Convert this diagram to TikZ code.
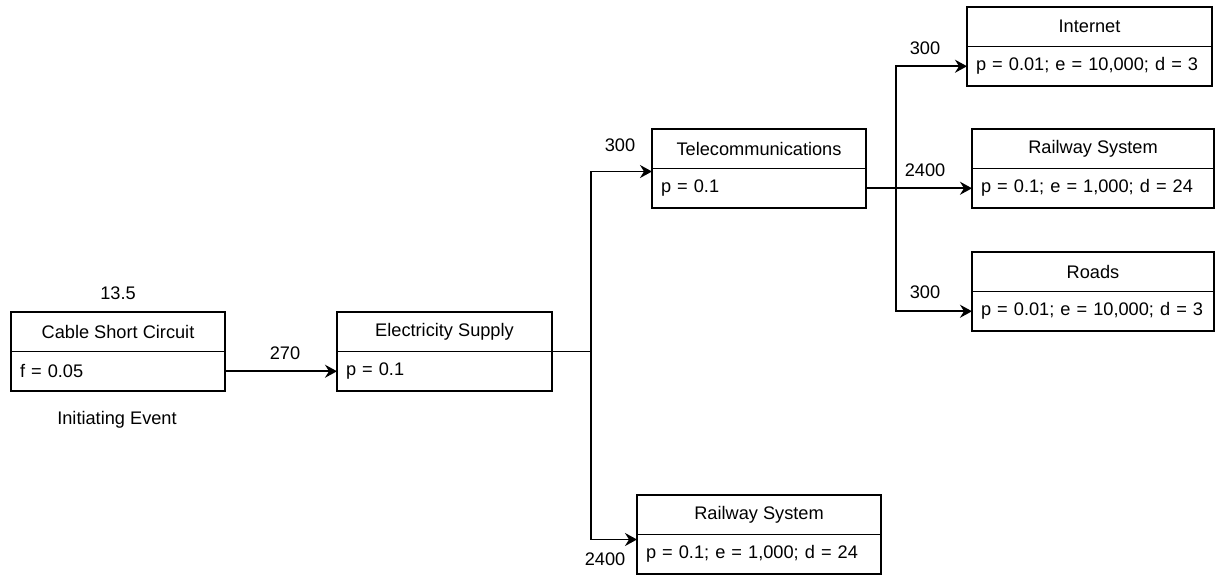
\documentclass[tikz,border=0pt]{standalone}
\usepackage{fontspec}
\setmainfont{Liberation Sans}
\usetikzlibrary{arrows.meta}

\begin{document}
\begin{tikzpicture} [
  x=1pt,
  y=-1pt,
  font=\fontsize{18.2}{22}\selectfont,
  line width=1.7pt,
  head/.style={draw, rectangle, outer sep=0pt, inner sep=0pt, anchor=north west, minimum width=#1, minimum height=39.5pt},
  body/.style={draw, rectangle, outer sep=0pt, inner xsep=9pt, inner ysep=0pt, anchor=north west, text width=#1, align=left, minimum height=39.5pt},
  lbl/.style={inner sep=0pt},
  link/.style={-{Stealth[length=12pt, width=13pt, inset=4pt]}}
  ]
  \useasboundingbox (0,0) rectangle (1217,576);

  \node(cable-head)[head=214pt, at={(11,312)}]{Cable Short Circuit};
  \node(cable-body)[body=196pt, at={(cable-head.south west)}]{f = 0.05};
  \node(elec-head)[head=215pt, at={(337,312)}]{Electricity Supply};
  \node(elec-body)[body=197pt, at={(elec-head.south west)}]{p = 0.1};
  \node(tele-head)[head=214pt, at={(652,129)}]{Telecommunications};
  \node(tele-body)[body=196pt, at={(tele-head.south west)}]{p = 0.1};
  \node(inet-head)[head=245pt, at={(967,7)}]{Internet};
  \node(inet-body)[body=227pt, at={(inet-head.south west)}]{p = 0.01; e = 10,000; d = 3};
  \node(railr-head)[head=242pt, at={(972,129)}]{Railway System};
  \node(railr-body)[body=224pt, at={(railr-head.south west)}]{p = 0.1; e = 1,000; d = 24};
  \node(roads-head)[head=242pt, at={(972,252)}]{Roads};
  \node(roads-body)[body=224pt, at={(roads-head.south west)}]{p = 0.01; e = 10,000; d = 3};
  \node(railb-head)[head=244pt, at={(637,495)}]{Railway System};
  \node(railb-body)[body=226pt, at={(railb-head.south west)}]{p = 0.1; e = 1,000; d = 24};

  % branch points
  \path (elec-head.south east) ++(39,0) coordinate (split-elec);
  \path (tele-body.east) ++(30,0) coordinate (split-tele);

  \draw[link] (cable-body) -- (elec-body);
  \draw (elec-head.south east) -- (split-elec);
  \draw[link] (split-elec) |- ([yshift=-3pt]tele-body.north west);
  \draw[link] (split-elec) |- ([yshift=-5pt]railb-body.north west);
  \draw[link] (tele-body) -- (railr-body);
  \draw[link] (split-tele) |- (inet-body.west);
  \draw[link] (split-tele) |- (roads-body.west);

  \node(freq)[lbl, at={(118,293)}]{13.5};
  \node(init)[lbl, at={(117,420)}]{Initiating Event};
  \node(l-elec)[lbl, at={(285,353)}]{270};
  \node(l-tele)[lbl, at={(620,145)}]{300};
  \node(l-railb)[lbl, at={(605,559)}]{2400};
  \node(l-inet)[lbl, at={(925,48)}]{300};
  \node(l-railr)[lbl, at={(925,170)}]{2400};
  \node(l-roads)[lbl, at={(925,292)}]{300};
\end{tikzpicture}
\end{document}
